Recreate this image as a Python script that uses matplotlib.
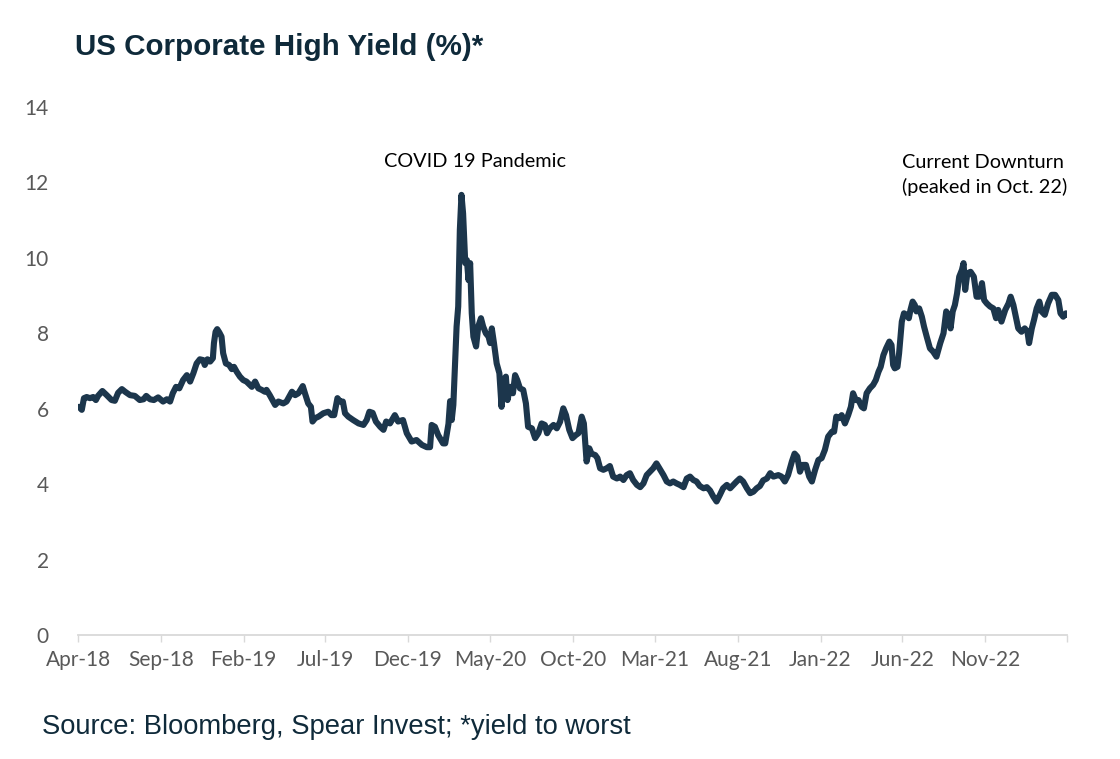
import matplotlib
matplotlib.use("Agg")
import matplotlib.pyplot as plt
import pandas as pd

# ---- data (days after 2018-04-01, yield %) ----
start_date = "2018-04-01"
end_date = "2023-04-01"
day_offsets = [
    2, 7, 11, 16, 22, 28, 33, 37, 45, 53, 62, 68, 74, 81, 87, 96, 105, 114, 121, 126,
    133, 140, 148, 157, 164, 170, 175, 181, 187, 194, 201, 207, 213, 219, 225, 231, 234, 239, 244, 249,
    251, 254, 257, 261, 265, 268, 273, 279, 284, 288, 293, 299, 305, 311, 321, 327, 333, 339, 345, 348,
    354, 364, 370, 379, 385, 395, 401, 407, 415, 419, 425, 430, 433, 438, 444, 453, 462, 468, 473, 479,
    484, 489, 493, 499, 508, 518, 527, 533, 538, 544, 550, 558, 564, 569, 576, 585, 591, 600, 607, 616,
    625, 635, 644, 650, 653, 659, 665, 674, 678, 684, 687, 690, 693, 696, 699, 702, 705, 708, 711, 715,
    718, 721, 724, 727, 730, 735, 739, 744, 748, 753, 758, 761, 764, 768, 773, 778, 782, 785, 790, 793,
    798, 803, 807, 811, 816, 822, 827, 831, 838, 844, 850, 856, 862, 866, 871, 878, 884, 890, 896, 901,
    907, 913, 919, 924, 930, 934, 939, 944, 948, 955, 959, 964, 970, 976, 982, 988, 995, 1001, 1007, 1013,
    1019, 1025, 1032, 1038, 1044, 1050, 1056, 1062, 1068, 1075, 1081, 1087, 1093, 1099, 1105, 1111, 1118, 1124, 1130, 1136,
    1142, 1148, 1155, 1161, 1167, 1173, 1179, 1185, 1191, 1198, 1204, 1210, 1216, 1222, 1228, 1235, 1241, 1247, 1253, 1259,
    1265, 1272, 1278, 1284, 1293, 1299, 1305, 1311, 1318, 1323, 1328, 1333, 1338, 1344, 1350, 1355, 1361, 1367, 1373, 1379,
    1385, 1392, 1396, 1400, 1406, 1410, 1416, 1422, 1427, 1431, 1436, 1441, 1447, 1451, 1456, 1462, 1468, 1473, 1478, 1482,
    1487, 1492, 1498, 1502, 1505, 1508, 1513, 1516, 1521, 1525, 1530, 1534, 1537, 1541, 1545, 1548, 1553, 1558, 1562, 1567,
    1573, 1579, 1585, 1592, 1598, 1603, 1607, 1611, 1615, 1619, 1623, 1627, 1632, 1635, 1638, 1642, 1648, 1654, 1659, 1664,
    1669, 1673, 1678, 1684, 1690, 1695, 1699, 1705, 1712, 1718, 1722, 1727, 1732, 1736, 1742, 1748, 1753, 1756, 1761, 1765,
    1770, 1775, 1779, 1785, 1791, 1798, 1804, 1810, 1814, 1819, 1824, 1825,
]
yield_pct = [
    6.05, 5.97, 6.28, 6.31, 6.28, 6.31, 6.23, 6.34, 6.47, 6.36, 6.23, 6.21, 6.42, 6.52, 6.45, 6.36, 6.34, 6.23, 6.25, 6.34,
    6.25, 6.23, 6.30, 6.19, 6.25, 6.19, 6.41, 6.58, 6.54, 6.76, 6.89, 6.72, 6.94, 7.20, 7.31, 7.29, 7.16, 7.31, 7.25, 7.34,
    7.74, 8.04, 8.11, 8.02, 7.91, 7.47, 7.20, 7.16, 7.05, 7.11, 6.98, 6.85, 6.76, 6.72, 6.58, 6.72, 6.54, 6.50, 6.45, 6.50,
    6.36, 6.10, 6.19, 6.14, 6.19, 6.45, 6.36, 6.41, 6.60, 6.41, 6.14, 6.05, 5.66, 5.75, 5.79, 5.88, 5.92, 5.83, 5.83, 6.28,
    6.19, 6.19, 5.88, 5.79, 5.70, 5.61, 5.57, 5.70, 5.92, 5.89, 5.66, 5.52, 5.44, 5.66, 5.61, 5.83, 5.66, 5.70, 5.35, 5.13,
    5.17, 5.04, 4.98, 4.98, 5.57, 5.52, 5.30, 5.08, 5.08, 5.60, 6.20, 5.70, 6.10, 7.16, 8.18, 8.71, 10.74, 11.67, 11.18, 9.86,
    9.94, 9.41, 9.86, 8.53, 7.91, 7.65, 8.18, 8.40, 8.18, 8.00, 7.91, 7.74, 8.13, 7.74, 7.20, 6.94, 6.05, 6.76, 6.85, 6.23,
    6.58, 6.41, 6.89, 6.76, 6.54, 6.50, 6.14, 5.52, 5.48, 5.22, 5.35, 5.61, 5.57, 5.35, 5.48, 5.57, 5.48, 5.65, 6.01, 5.83,
    5.44, 5.22, 5.30, 5.35, 5.79, 5.61, 4.60, 4.95, 4.81, 4.77, 4.69, 4.42, 4.38, 4.42, 4.48, 4.20, 4.15, 4.20, 4.11, 4.24,
    4.29, 4.11, 3.98, 3.92, 4.02, 4.24, 4.33, 4.42, 4.55, 4.38, 4.24, 4.07, 4.02, 4.07, 4.02, 3.98, 3.92, 4.15, 4.20, 4.11,
    4.07, 3.95, 3.89, 3.92, 3.83, 3.67, 3.54, 3.71, 3.89, 3.98, 3.89, 3.98, 4.07, 4.15, 4.07, 3.89, 3.76, 3.80, 3.89, 3.95,
    4.10, 4.15, 4.29, 4.20, 4.24, 4.20, 4.07, 4.24, 4.60, 4.81, 4.73, 4.33, 4.51, 4.51, 4.20, 4.07, 4.38, 4.64, 4.69, 4.91,
    5.26, 5.39, 5.39, 5.79, 5.75, 5.83, 5.61, 5.83, 6.05, 6.41, 6.23, 6.23, 6.05, 6.01, 6.41, 6.54, 6.63, 6.76, 6.98, 7.11,
    7.42, 7.60, 7.78, 7.69, 7.16, 7.07, 7.11, 7.47, 8.31, 8.53, 8.49, 8.40, 8.62, 8.84, 8.75, 8.58, 8.66, 8.44, 8.18, 7.91,
    7.60, 7.51, 7.38, 7.74, 8.00, 8.58, 8.44, 8.13, 8.58, 8.75, 9.06, 9.50, 9.68, 9.86, 9.15, 9.59, 9.63, 9.50, 8.97, 8.97,
    9.33, 8.88, 8.79, 8.71, 8.66, 8.40, 8.62, 8.31, 8.62, 8.79, 8.97, 8.75, 8.40, 8.13, 8.04, 8.13, 8.04, 7.74, 8.13, 8.35,
    8.66, 8.84, 8.58, 8.49, 8.79, 9.02, 9.02, 8.88, 8.53, 8.44, 8.53, 8.49,
]
y_ticks = [0, 2, 4, 6, 8, 10, 12, 14]
x_tick_months = 5  # one tick label every five months

title_text = "US Corporate High Yield (%)*"
source_text = "Source: Bloomberg, Spear Invest; *yield to worst"
annotation_covid = "COVID 19 Pandemic"
annotation_now = "Current Downturn\n(peaked in Oct. 22)"
covid_label_date = "2020-04-03"

# ---- styling ----
LINE_COLOR = "#1c364c"
AXIS_COLOR = "#d9d9d9"
TICK_TEXT = "#595959"
TITLE_COLOR = "#0f2a3a"
LABEL_FONT = ["Lato", "DejaVu Sans"]
HEAD_FONT = ["Liberation Sans", "DejaVu Sans"]

dates = pd.Timestamp(start_date) + pd.to_timedelta(day_offsets, unit="D")
x0 = pd.Timestamp(start_date)
x1 = pd.Timestamp(end_date)

fig = plt.figure(figsize=(11.2, 7.59), dpi=100)
fig.patch.set_facecolor("white")
ax = fig.add_axes([78 / 1120, 1 - 635 / 759, (1067 - 78) / 1120, (635 - 107) / 759])

ax.plot(dates, yield_pct, color=LINE_COLOR, linewidth=4.4, solid_joinstyle="round",
        solid_capstyle="round")

ax.set_xlim(x0, x1)
ax.set_ylim(0, 14)
ax.set_yticks(y_ticks)

tick_dates = pd.date_range(x0, x1, freq=f"{x_tick_months}MS")
ax.set_xticks(tick_dates)
labels = [d.strftime("%b-%y") for d in tick_dates]
labels[-1] = ""
ax.set_xticklabels(labels)

for side in ("top", "right", "left"):
    ax.spines[side].set_visible(False)
ax.spines["bottom"].set_color(AXIS_COLOR)
ax.spines["bottom"].set_linewidth(1.3)

ax.tick_params(axis="x", direction="out", length=5, width=1.0, color=AXIS_COLOR,
               labelcolor=TICK_TEXT, labelsize=15, pad=6)
ax.tick_params(axis="y", length=0, labelcolor=TICK_TEXT, labelsize=15, pad=21)
for lab in ax.get_xticklabels() + ax.get_yticklabels():
    lab.set_family(LABEL_FONT)

ax.text(pd.Timestamp(covid_label_date), 12.55, annotation_covid, ha="center", va="center",
        fontsize=14.3, family=LABEL_FONT, color="black")
ax.text(1.0, 12.2, annotation_now, transform=ax.get_yaxis_transform(), ha="right",
        va="center", fontsize=14.3, family=LABEL_FONT, color="black", linespacing=1.42,
        multialignment="left")

fig.text(75 / 1120, 1 - 47 / 759, title_text, ha="left", va="center", fontsize=21.3,
         fontweight="bold", family=HEAD_FONT, color=TITLE_COLOR)
fig.text(42 / 1120, 1 - 727 / 759, source_text, ha="left", va="center", fontsize=19.7,
         family=HEAD_FONT, color=TITLE_COLOR)

fig.savefig("out.png", dpi=100, facecolor="white")
